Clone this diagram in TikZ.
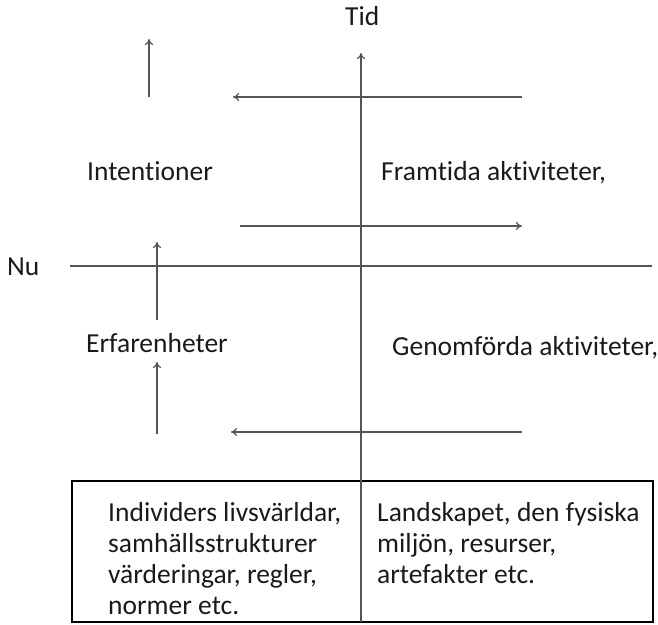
\documentclass[tikz,border=0pt]{standalone}
\usepackage{fontspec}
\setmainfont[Ligatures={NoCommon}]{Carlito}
\usetikzlibrary{arrows.meta}
\definecolor{txt}{HTML}{1A1A1A}
\definecolor{ln}{HTML}{555555}
\begin{document}
\begin{tikzpicture}[x=1pt,y=-1pt,
  lbl/.style={anchor=base west,inner sep=0pt,text=txt,font=\fontsize{27.5}{31}\selectfont},
  arr/.style={draw=ln,line width=1.2pt,-{To[length=6pt,width=8pt]}},
  plain/.style={draw=ln,line width=1.2pt}]
\useasboundingbox (0,0) rectangle (658,624);
% box
\draw[line width=1.8pt] (72,481) rectangle (653,622);
% axes
\coordinate (vb) at (361,622);
\coordinate (vt) at (361,53);
\draw[arr] (vb) -- (vt);
\coordinate (nl) at (70,266);
\coordinate (nr) at (652,266);
\draw[plain] (nl) -- (nr);
% labels
\node[lbl] (tid) at (345,25) {Tid};
\node[lbl] (nu) at (7,275) {Nu};
\node[lbl] (int) at (87,180) {Intentioner};
\node[lbl] (fra) at (381,180) {Framtida aktiviteter,};
\node[lbl] (erf) at (86,352) {Erfarenheter};
\node[lbl] (gen) at (392,355) {Genomförda aktiviteter,};
% arrows
\coordinate (a1s) at (149,97); \coordinate (a1e) at (149,39);
\draw[arr] (a1s) -- (a1e);
\coordinate (a2s) at (522,97); \coordinate (a2e) at (233,97);
\draw[arr] (a2s) -- (a2e);
\coordinate (a3s) at (240,226); \coordinate (a3e) at (522,226);
\draw[arr] (a3s) -- (a3e);
\coordinate (a4s) at (157,320); \coordinate (a4e) at (157,242);
\draw[arr] (a4s) -- (a4e);
\coordinate (a5s) at (157,434); \coordinate (a5e) at (157,362);
\draw[arr] (a5s) -- (a5e);
\coordinate (a6s) at (522,432); \coordinate (a6e) at (231,432);
\draw[arr] (a6s) -- (a6e);
% box texts
\node[lbl] (l1) at (108,521) {Individers livsvärldar,};
\node[lbl] (l2) at (108,552) {samhällsstrukturer};
\node[lbl] (l3) at (108,583) {värderingar, regler,};
\node[lbl] (l4) at (108,614) {normer etc.};
\node[lbl] (r1) at (377,521) {Landskapet, den fysiska};
\node[lbl] (r2) at (377,552) {miljön, resurser,};
\node[lbl] (r3) at (377,583) {artefakter etc.};
\end{tikzpicture}
\end{document}
